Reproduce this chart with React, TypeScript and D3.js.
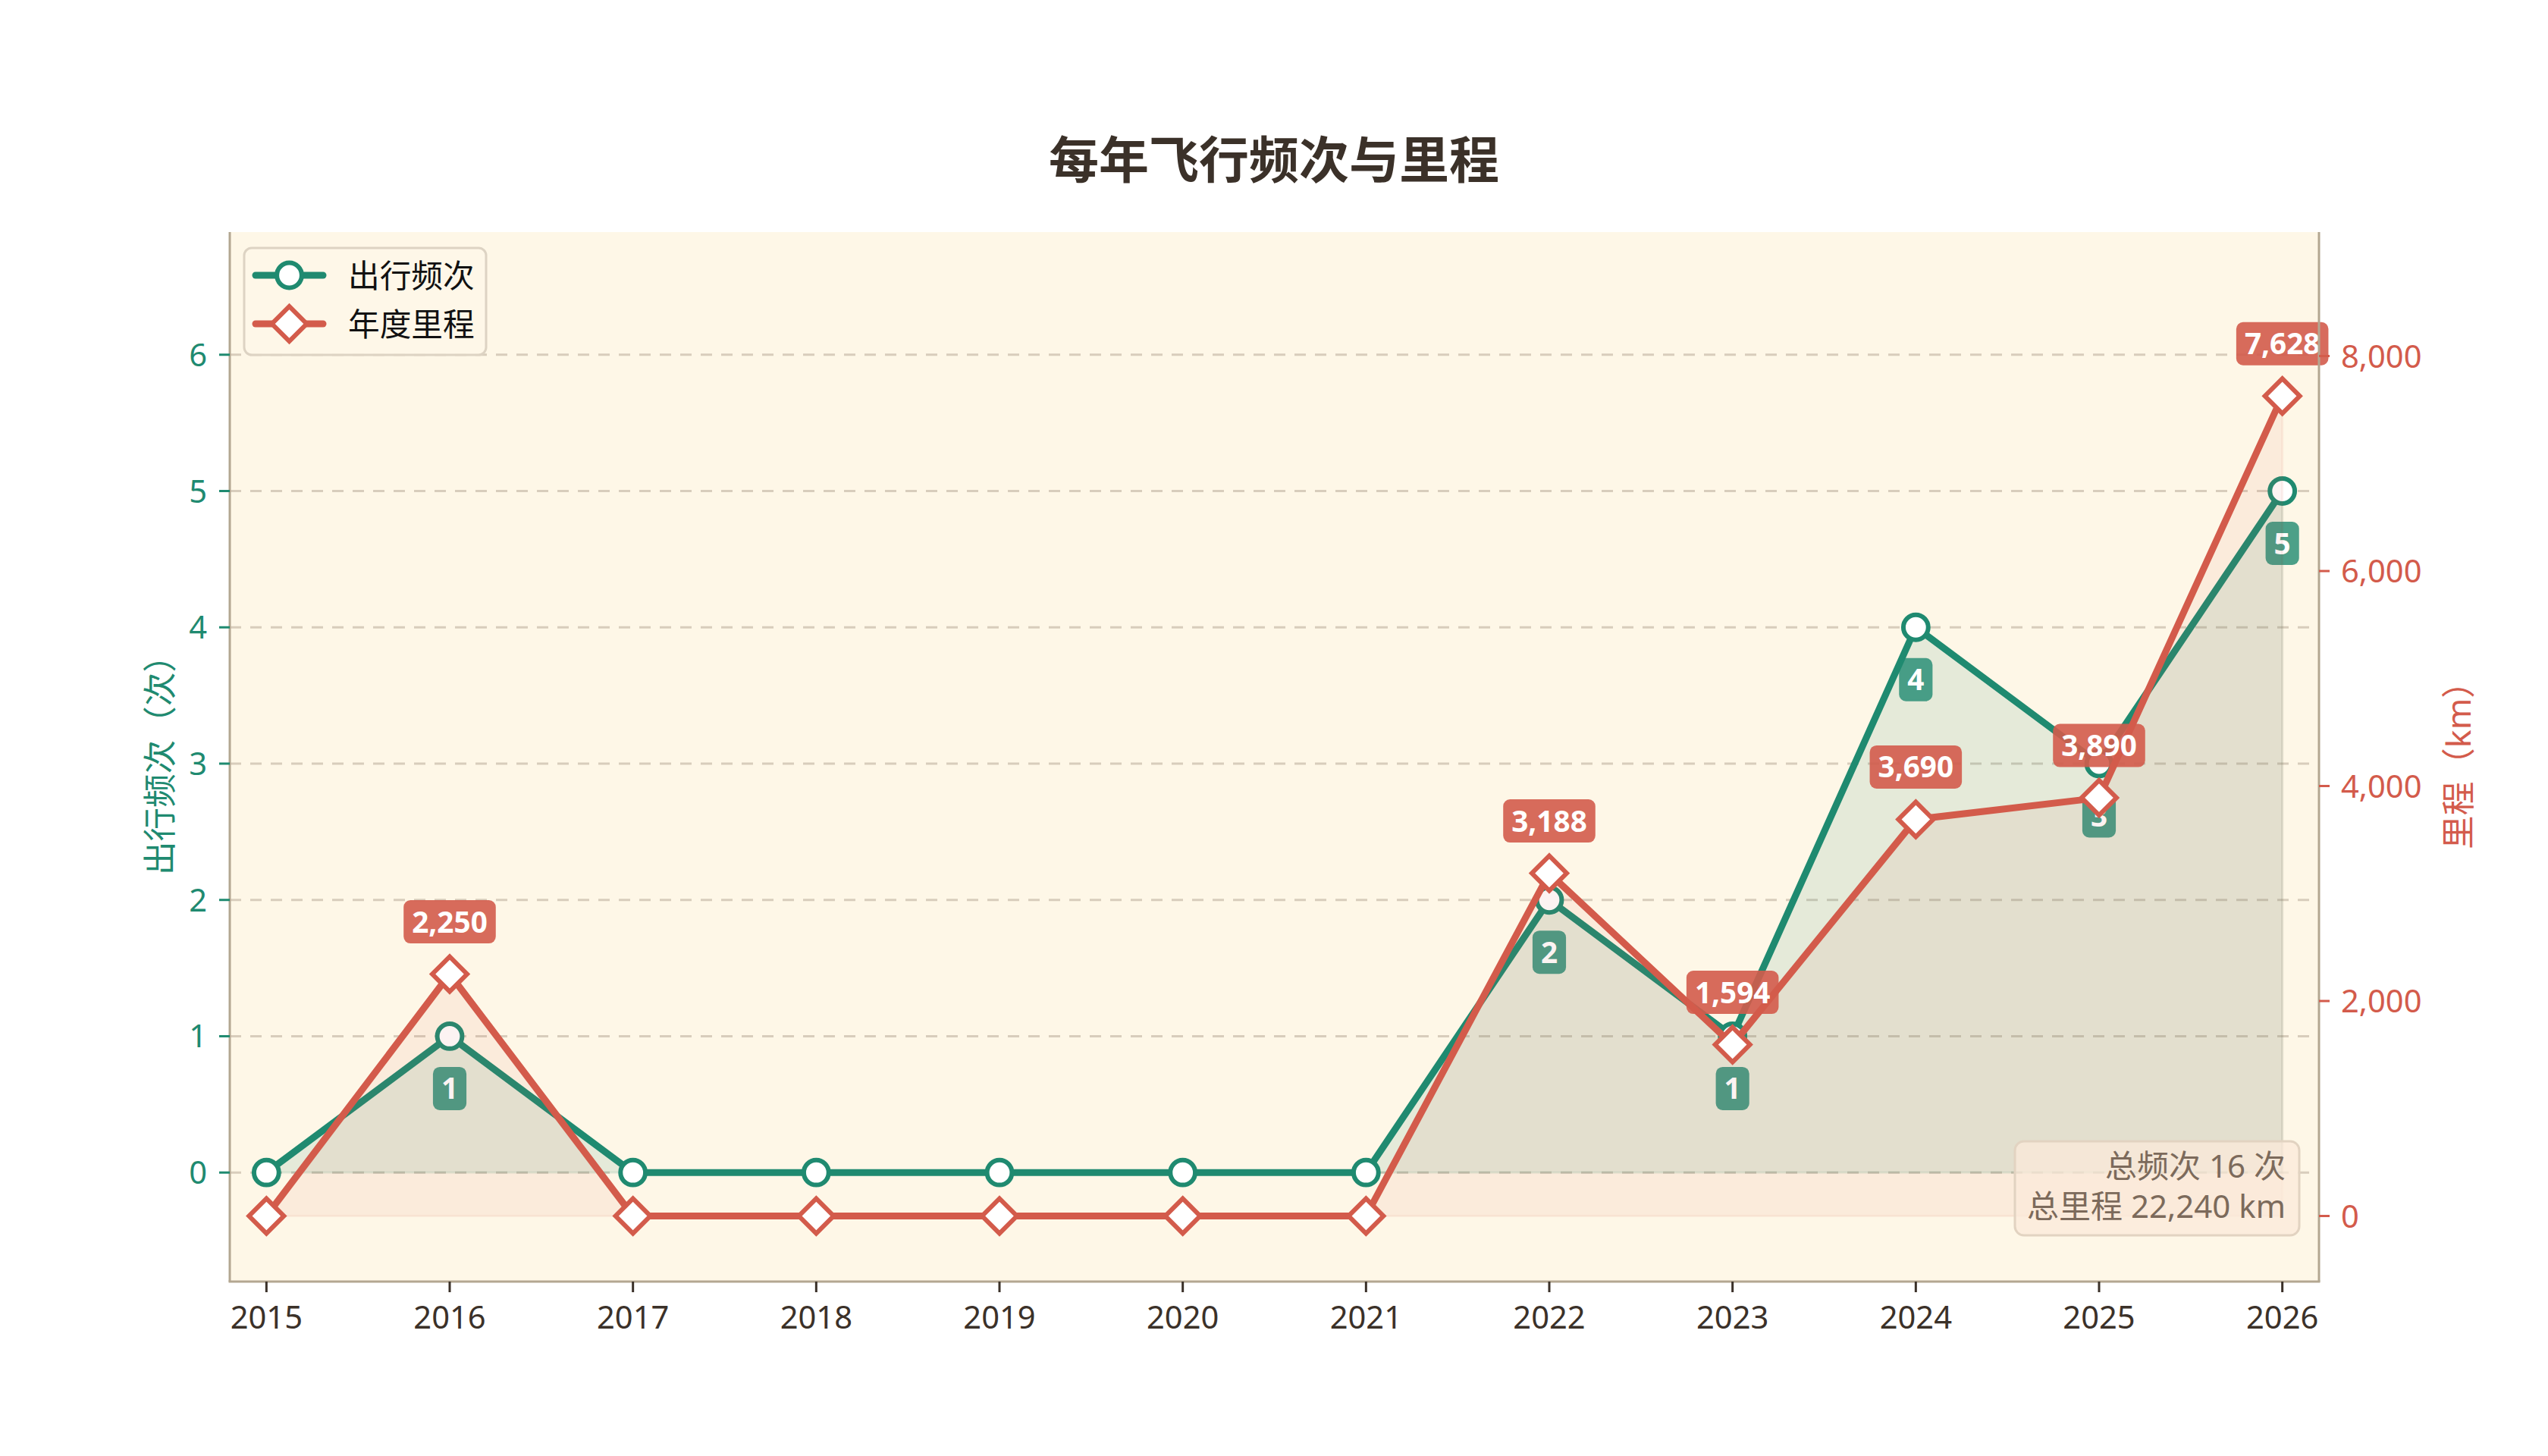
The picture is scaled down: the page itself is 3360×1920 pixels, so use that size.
import React, { useRef, useEffect } from 'react';
import * as d3 from 'd3';

// data
const years = [2015, 2016, 2017, 2018, 2019, 2020, 2021, 2022, 2023, 2024, 2025, 2026];
const tripCounts = [0, 1, 0, 0, 0, 0, 0, 2, 1, 4, 3, 5];
const distancesKm = [0, 2250, 0, 0, 0, 0, 0, 3188, 1594, 3690, 3890, 7628];
const countTicks = [0, 1, 2, 3, 4, 5, 6];
const distanceTicks = [0, 2000, 4000, 6000, 8000];
const seriesNames = ['出行频次', '年度里程'];

const W = 3360;
const H = 1920;
const FONT = '"Noto Sans", "Noto Sans CJK SC", sans-serif';
const GREEN = '#1f8a70';
const RED = '#d35b4b';
const INK = '#3b3129';
const SPINE = '#b3a791';

const App: React.FC = () => {
  const svgRef = useRef<SVGSVGElement>(null);

  useEffect(() => {
    if (!svgRef.current) return;
    const svg = d3.select(svgRef.current);
    svg.selectAll('*').remove();

    const left = 303, right = 3058, top = 306, bottom = 1690;

    const maxCount = d3.max(tripCounts) as number;
    const maxKm = d3.max(distancesKm) as number;

    const x = d3.scaleLinear().domain([years[0] - 0.2, years[years.length - 1] + 0.2]).range([left, right]);
    const yL = d3.scaleLinear().domain([-maxCount * 0.16, maxCount * 1.38]).range([bottom, top]);
    const yR = d3.scaleLinear().domain([-maxKm * 0.08, maxKm * 1.2]).range([bottom, top]);

    const countData = years.map((yr, i) => ({ yr, v: tripCounts[i] }));
    const kmData = years.map((yr, i) => ({ yr, v: distancesKm[i] }));

    // plot background
    svg.append('rect')
      .attr('x', left).attr('y', top)
      .attr('width', right - left).attr('height', bottom - top)
      .attr('fill', '#fef7e7');

    // grid
    svg.append('g')
      .selectAll('line')
      .data(countTicks)
      .enter()
      .append('line')
      .attr('x1', left).attr('x2', right)
      .attr('y1', d => yL(d)).attr('y2', d => yL(d))
      .attr('stroke', '#d8cdbc')
      .attr('stroke-width', 3)
      .attr('stroke-dasharray', '15 12');

    // frequency series
    const countArea = d3.area<{ yr: number; v: number }>()
      .x(d => x(d.yr)).y0(yL(0)).y1(d => yL(d.v));
    svg.append('path').datum(countData)
      .attr('d', countArea)
      .attr('fill', GREEN).attr('fill-opacity', 0.11)
      .attr('stroke', GREEN).attr('stroke-opacity', 0.1).attr('stroke-width', 3);

    const countLine = d3.line<{ yr: number; v: number }>().x(d => x(d.yr)).y(d => yL(d.v));
    svg.append('path').datum(countData)
      .attr('d', countLine)
      .attr('fill', 'none')
      .attr('stroke', GREEN).attr('stroke-width', 9)
      .attr('stroke-linejoin', 'round').attr('stroke-linecap', 'round');

    svg.append('g').selectAll('circle')
      .data(countData).enter().append('circle')
      .attr('cx', d => x(d.yr)).attr('cy', d => yL(d.v))
      .attr('r', 16.4)
      .attr('fill', 'white').attr('stroke', GREEN).attr('stroke-width', 6);

    const addBadge = (cx: number, cy: number, label: string, color: string, opacity: number) => {
      const g = svg.append('g');
      const rect = g.append('rect');
      const t = g.append('text')
        .attr('x', cx).attr('y', cy + 14)
        .attr('text-anchor', 'middle')
        .style('font-family', FONT).style('font-size', '38.7px').style('font-weight', 700)
        .attr('fill', 'white')
        .text(label);
      const tw = (t.node() as SVGTextElement).getComputedTextLength();
      const bw = tw + 22;
      rect.attr('x', cx - bw / 2).attr('y', cy - 28.5)
        .attr('width', bw).attr('height', 57).attr('rx', 9)
        .attr('fill', color).attr('fill-opacity', opacity);
    };

    countData.filter(d => d.v > 0).forEach(d => {
      addBadge(x(d.yr), yL(d.v) + 69, d3.format(',')(d.v), GREEN, 0.8);
    });

    // distance series
    const kmArea = d3.area<{ yr: number; v: number }>()
      .x(d => x(d.yr)).y0(yR(0)).y1(d => yR(d.v));
    svg.append('path').datum(kmData)
      .attr('d', kmArea)
      .attr('fill', RED).attr('fill-opacity', 0.07)
      .attr('stroke', RED).attr('stroke-opacity', 0.07).attr('stroke-width', 3);

    const kmLine = d3.line<{ yr: number; v: number }>().x(d => x(d.yr)).y(d => yR(d.v));
    svg.append('path').datum(kmData)
      .attr('d', kmLine)
      .attr('fill', 'none')
      .attr('stroke', RED).attr('stroke-width', 9)
      .attr('stroke-linejoin', 'round').attr('stroke-linecap', 'round');

    const diamond = d3.symbol().type(d3.symbolSquare).size(1058);
    svg.append('g').selectAll('path')
      .data(kmData).enter().append('path')
      .attr('d', diamond)
      .attr('transform', d => `translate(${x(d.yr)},${yR(d.v)}) rotate(45)`)
      .attr('fill', 'white').attr('stroke', RED).attr('stroke-width', 6)
      .attr('stroke-linejoin', 'miter');

    kmData.filter(d => d.v > 0).forEach(d => {
      addBadge(x(d.yr), yR(d.v) - 69, d3.format(',')(d.v), RED, 0.9);
    });

    // spines
    svg.append('line').attr('x1', left).attr('x2', left).attr('y1', top).attr('y2', bottom)
      .attr('stroke', SPINE).attr('stroke-width', 3);
    svg.append('line').attr('x1', right).attr('x2', right).attr('y1', top).attr('y2', bottom)
      .attr('stroke', SPINE).attr('stroke-width', 3);
    svg.append('line').attr('x1', left - 1.5).attr('x2', right + 1.5).attr('y1', bottom).attr('y2', bottom)
      .attr('stroke', SPINE).attr('stroke-width', 3);

    // left ticks
    const lt = svg.append('g').selectAll('g').data(countTicks).enter().append('g');
    lt.append('line')
      .attr('x1', left - 14).attr('x2', left)
      .attr('y1', d => yL(d)).attr('y2', d => yL(d))
      .attr('stroke', GREEN).attr('stroke-width', 3);
    lt.append('text')
      .attr('x', left - 30).attr('y', d => yL(d) + 15)
      .attr('text-anchor', 'end')
      .style('font-family', FONT).style('font-size', '41.7px')
      .attr('fill', GREEN)
      .text(d => String(d));

    // right ticks
    const rt = svg.append('g').selectAll('g').data(distanceTicks).enter().append('g');
    rt.append('line')
      .attr('x1', right).attr('x2', right + 14)
      .attr('y1', d => yR(d)).attr('y2', d => yR(d))
      .attr('stroke', RED).attr('stroke-width', 3);
    rt.append('text')
      .attr('x', right + 29).attr('y', d => yR(d) + 15)
      .attr('text-anchor', 'start')
      .style('font-family', FONT).style('font-size', '41.7px')
      .attr('fill', RED)
      .text(d => d3.format(',')(d));

    // bottom ticks
    const bt = svg.append('g').selectAll('g').data(years).enter().append('g');
    bt.append('line')
      .attr('x1', d => x(d)).attr('x2', d => x(d))
      .attr('y1', bottom).attr('y2', bottom + 14)
      .attr('stroke', INK).attr('stroke-width', 3);
    bt.append('text')
      .attr('x', d => x(d)).attr('y', 1752)
      .attr('text-anchor', 'middle')
      .style('font-family', FONT).style('font-size', '41.7px')
      .attr('fill', INK)
      .text(d => String(d));

    // axis labels
    svg.append('text')
      .attr('transform', `translate(227, ${(top + bottom) / 2}) rotate(-90)`)
      .attr('text-anchor', 'middle')
      .style('font-family', FONT).style('font-size', '44.6px')
      .attr('fill', GREEN)
      .text('出行频次（次）');
    svg.append('text')
      .attr('transform', `translate(3258, ${(top + bottom) / 2}) rotate(-90)`)
      .attr('text-anchor', 'middle')
      .style('font-family', FONT).style('font-size', '44.6px')
      .attr('fill', RED)
      .text('里程（km）');

    // title
    svg.append('text')
      .attr('x', W / 2).attr('y', 235)
      .attr('text-anchor', 'middle')
      .style('font-family', FONT).style('font-size', '66px').style('font-weight', 700)
      .attr('fill', INK)
      .text('每年飞行频次与里程');

    // legend
    const lg = svg.append('g');
    lg.append('rect')
      .attr('x', 322).attr('y', 327).attr('width', 319).attr('height', 141).attr('rx', 10)
      .attr('fill', '#fef7e7').attr('fill-opacity', 0.85)
      .attr('stroke', '#ddd3c3').attr('stroke-width', 3);
    const rows = [363, 427];
    seriesNames.forEach((name, i) => {
      const color = i === 0 ? GREEN : RED;
      const cy = rows[i];
      lg.append('line')
        .attr('x1', 337).attr('x2', 426).attr('y1', cy).attr('y2', cy)
        .attr('stroke', color).attr('stroke-width', 9).attr('stroke-linecap', 'round');
      if (i === 0) {
        lg.append('circle').attr('cx', 381.5).attr('cy', cy).attr('r', 16.4)
          .attr('fill', 'white').attr('stroke', color).attr('stroke-width', 6);
      } else {
        lg.append('path').attr('d', diamond)
          .attr('transform', `translate(381.5,${cy}) rotate(45)`)
          .attr('fill', 'white').attr('stroke', color).attr('stroke-width', 6);
      }
      lg.append('text')
        .attr('x', 459).attr('y', cy + 16)
        .style('font-family', FONT).style('font-size', '41.7px')
        .attr('fill', '#111111')
        .text(name);
    });

    // totals box
    const totalCount = d3.sum(tripCounts);
    const totalKm = d3.sum(distancesKm);
    const sg = svg.append('g');
    sg.append('rect')
      .attr('x', 2657).attr('y', 1505).attr('width', 375).attr('height', 124).attr('rx', 12)
      .attr('fill', '#fbe9d9').attr('fill-opacity', 0.75)
      .attr('stroke', '#e2d3c1').attr('stroke-width', 3);
    [`总频次 ${totalCount} 次`, `总里程 ${d3.format(',')(totalKm)} km`].forEach((s, i) => {
      sg.append('text')
        .attr('x', 3014).attr('y', 1553 + i * 53)
        .attr('text-anchor', 'end')
        .style('font-family', FONT).style('font-size', '42px')
        .attr('fill', '#7c6a5b')
        .text(s);
    });
  }, []);

  return (
    <svg
      ref={svgRef}
      width={W}
      height={H}
      style={{ position: 'absolute', left: 0, top: 0, background: 'white' }}
    />
  );
};

export default App;
